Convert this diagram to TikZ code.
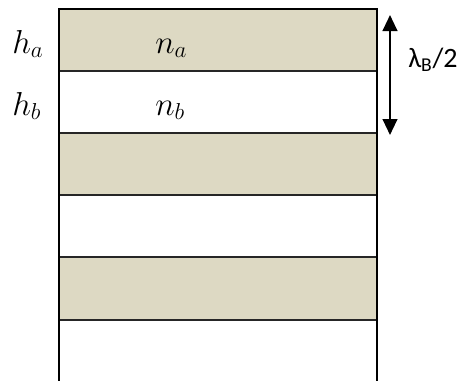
\documentclass[tikz,border=0pt]{standalone}
\usepackage{fontspec}
\newfontfamily\calib{Carlito}
\usetikzlibrary{arrows.meta}
\definecolor{tan}{HTML}{DDD9C3}
\tikzset{
  tanlayer/.style={fill=tan},
  sep/.style={line width=1.6pt, draw=black!85},
  border/.style={line width=1.8pt, draw=black},
  mlabel/.style={inner sep=0pt, anchor=base west, font=\fontsize{24}{28}\selectfont},
  dimarrow/.style={line width=1.6pt, {Triangle[width=11pt,length=12pt]}-{Triangle[width=11pt,length=12pt]}},
}
\begin{document}
\begin{tikzpicture}[x=0.75pt,y=-0.75pt]
\useasboundingbox (0,0) rectangle (458,380);
% layers
\fill[tanlayer] (59,9) rectangle (377,71);
\fill[tanlayer] (59,133) rectangle (377,195);
\fill[tanlayer] (59,257) rectangle (377,320);
% separators
\foreach \yy in {71,133,195,257,320} \draw[sep] (59,\yy) -- (377,\yy);
% border (open at bottom)
\draw[border] (59,381) -- (59,9) -- (377,9) -- (377,381);
% labels
\node[mlabel] (ha) at (12,53) {$h_a$};
\node[mlabel] (hb) at (12,115) {$h_b$};
\node[mlabel] (na) at (155,53) {$n_a$};
\node[mlabel] (nb) at (155,115) {$n_b$};
\node[inner sep=0pt, anchor=base west, font=\calib\fontsize{21}{24}\selectfont] (lam) at (408,67) {λ\textsubscript{B}/2};
% dimension arrow
\coordinate (atop) at (390,15);
\coordinate (abot) at (390,135);
\draw[dimarrow] (atop) -- (abot);
\end{tikzpicture}
\end{document}
